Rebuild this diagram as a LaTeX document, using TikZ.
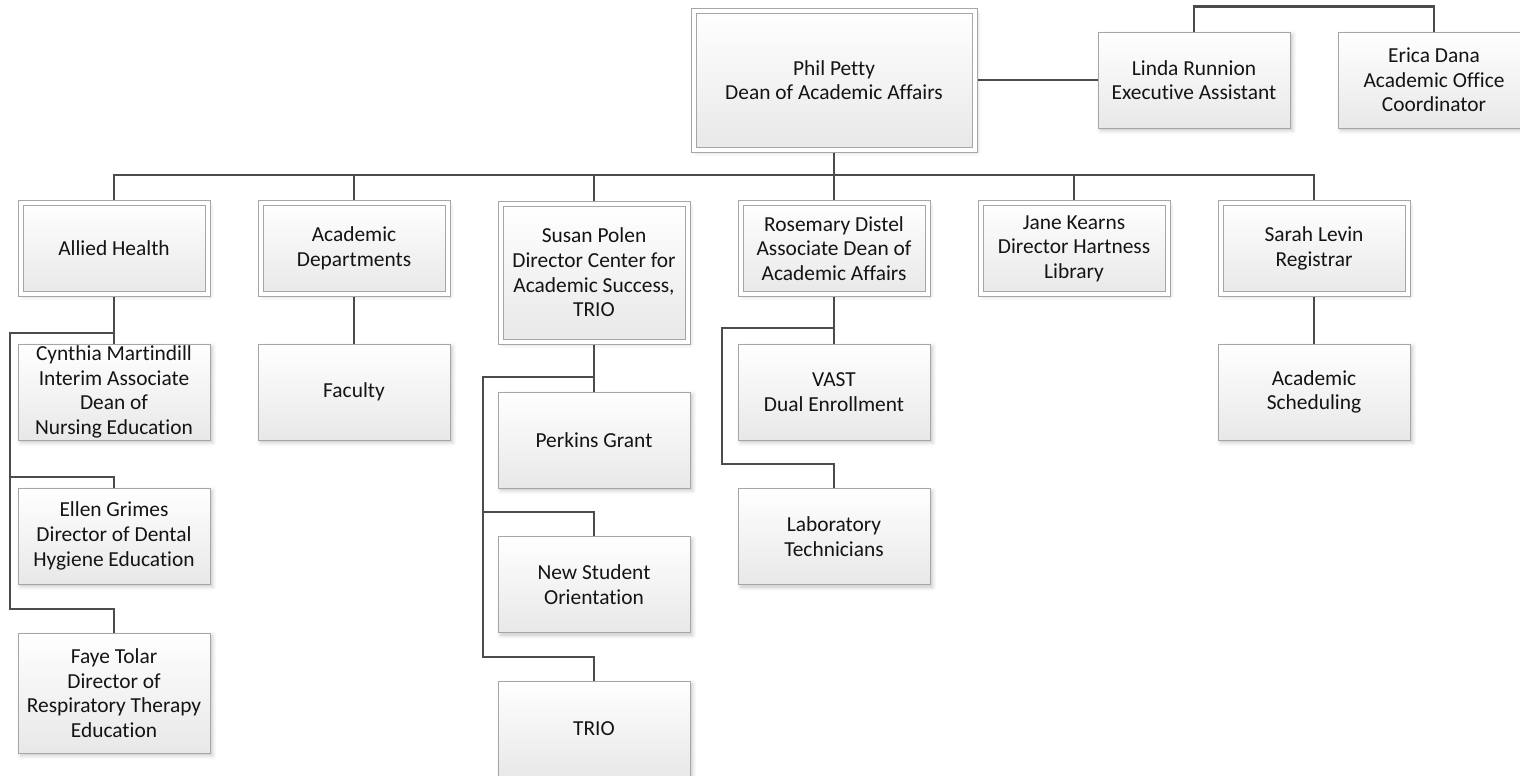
\documentclass[tikz,border=0pt]{standalone}
\usepackage{fontspec}
\setmainfont{Carlito}[Ligatures=NoCommon]
\usetikzlibrary{shadows.blur,backgrounds}
\begin{document}
\begin{tikzpicture}[x=0.5pt,y=-0.5pt,
  card/.style={draw=black!35, line width=0.5pt, top color=white, bottom color=black!9,
    blur shadow={shadow xshift=1.3pt, shadow yshift=-1.3pt, shadow blur steps=4, shadow opacity=22},
    align=center, font=\fontsize{10.7}{12.3}\selectfont, text=black!92, inner sep=0pt,
    minimum width=96pt, minimum height=48pt},
  lead/.style={card, double=white, double distance=2pt, minimum width=93.5pt, minimum height=45.5pt},
  link/.style={draw=black!70, line width=1.4pt}
]
\path[use as bounding box, clip] (0,0) rectangle (1520,776);

% top level
\node[lead, minimum width=140.5pt, minimum height=69.5pt] (phil) at (834,80) {Phil Petty\\Dean of Academic Affairs};
\node[card] (linda) at (1194,80) {Linda Runnion\\Executive Assistant};
\node[card] (erica) at (1434,80) {Erica Dana\\Academic Office\\Coordinator};

% second level
\node[lead] (allied)   at (114,248.5)  {Allied Health};
\node[lead] (acad)     at (354,248.5)  {Academic\\Departments};
\node[lead, minimum height=69pt] (susan) at (594,272.5) {Susan Polen\\Director Center for\\Academic Success,\\TRIO};
\node[lead] (rosemary) at (834,248.5)  {Rosemary Distel\\Associate Dean of\\Academic Affairs};
\node[lead] (jane)     at (1074,248.5) {Jane Kearns\\Director Hartness\\Library};
\node[lead] (sarah)    at (1314,248.5) {Sarah Levin\\Registrar};

% third level
\node[card] (cynthia) at (114,392)   {Cynthia Martindill\\Interim Associate\\Dean of\\Nursing Education};
\node[card] (ellen)   at (114,536)   {Ellen Grimes\\Director of Dental\\Hygiene Education};
\node[card, minimum height=60pt] (faye) at (114,693) {Faye Tolar\\Director of\\Respiratory Therapy\\Education};
\node[card] (faculty) at (354,392)   {Faculty};
\node[card] (perkins) at (594,440)   {Perkins Grant};
\node[card] (nso)     at (594,584.5) {New Student\\Orientation};
\node[card] (trio)    at (594,729)   {TRIO};
\node[card] (vast)    at (834,392)   {VAST\\Dual Enrollment};
\node[card] (lab)     at (834,536.5) {Laboratory\\Technicians};
\node[card] (sched)   at (1314,392)  {Academic\\Scheduling};

% bend points of the connectors
\coordinate (bus) at (834,175);
\coordinate (ahA) at (114,333);
\coordinate (ahB) at (10,477);
\coordinate (ahC) at (10,609);
\coordinate (suA) at (594,377);
\coordinate (suB) at (483,512);
\coordinate (suC) at (483,657);
\coordinate (roA) at (834,328);
\coordinate (roB) at (722,464);

\begin{pgfonlayer}{background}
  \draw[link] (phil.east) -- (linda.west);
  \draw[link] (linda.north) -- ++(0,-25) -| (erica.north);
  \foreach \n in {allied,acad,susan,rosemary,jane,sarah}
    \draw[link] (phil.south) -- (bus) -| (\n.north);
  % Allied Health
  \draw[link] (allied.south) -- (cynthia.north);
  \draw[link] (ahA) -| (ahB) -| (ellen.north);
  \draw[link] (ahB) -- (ahC) -| (faye.north);
  % Academic Departments
  \draw[link] (acad.south) -- (faculty.north);
  % Center for Academic Success
  \draw[link] (susan.south) -- (perkins.north);
  \draw[link] (suA) -| (suB) -| (nso.north);
  \draw[link] (suB) -- (suC) -| (trio.north);
  % Associate Dean
  \draw[link] (rosemary.south) -- (vast.north);
  \draw[link] (roA) -| (roB) -| (lab.north);
  % Registrar
  \draw[link] (sarah.south) -- (sched.north);
\end{pgfonlayer}
\end{tikzpicture}
\end{document}
